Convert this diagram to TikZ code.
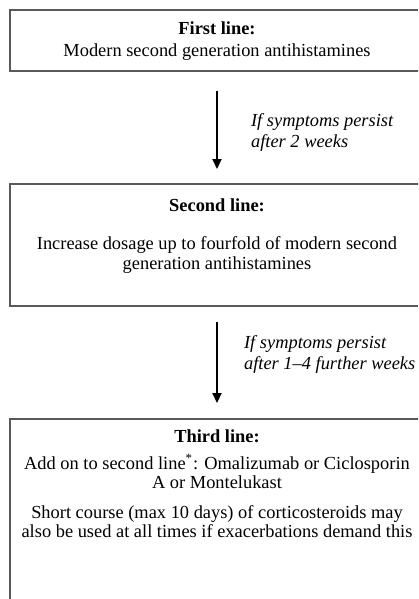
\documentclass[tikz,border=0pt]{standalone}
\usepackage{fontspec}
\setmainfont{Liberation Serif}
\usetikzlibrary{arrows.meta,positioning}
\newcommand{\chartfont}{\fontsize{9.2}{10}\selectfont}
\tikzstyle{stage}=[rectangle, draw=black!65, line width=0.8pt, minimum width=207pt, inner sep=0pt, anchor=north]
\tikzstyle{heading}=[inner sep=0pt, font=\chartfont\bfseries]
\tikzstyle{body}=[inner sep=0pt, align=center, font=\chartfont]
\tikzstyle{cond}=[inner sep=0pt, align=left, font=\fontsize{9.2}{10.5}\selectfont\itshape]
\tikzstyle{down}=[line width=1.1pt, -{Triangle[length=5pt,width=4.5pt]}]

\begin{document}
\begin{tikzpicture}[x=0.5pt,y=-0.5pt]
	\useasboundingbox (0,0) rectangle (418,599);
	\clip (0,0) rectangle (418,599);
	% boxes
	\node[stage, minimum height=30.5pt] (first) at (217,9) {};
	\node[stage, minimum height=61pt] (second) at (217,183) {};
	\node[stage, minimum height=110pt] (third) at (217,418) {};
	% texts
	\node[heading] (firsthead) at (217,28) {First line:};
	\node[body] (firsttext) at (217,52) {Modern second generation antihistamines};
	\node[heading] (secondhead) at (217,205) {Second line:};
	\node[body] (secondtext) at (217,255) {Increase dosage up to fourfold of modern second\\generation antihistamines};
	\node[heading] (thirdhead) at (217,436) {Third line:};
	\node[body, font=\fontsize{9.2}{9.5}\selectfont] (thirdtext) at (217,471.5) {Add on to second line\textsuperscript{*}: Omalizumab or Ciclosporin\\A or Montelukast};
	\node[body, font=\fontsize{9.2}{9.5}\selectfont] (thirdnote) at (217,521.5) {Short course (max 10 days) of corticosteroids may\\also be used at all times if exacerbations demand this};
	% arrows
	\draw[down, shorten <=9.5pt, shorten >=7pt] (first) -- (second)
		node[cond, pos=0.55, right=16.5pt] (cond1) {If symptoms persist\\after 2 weeks};
	\draw[down, shorten <=7.5pt, shorten >=7.5pt] (second) -- (third)
		node[cond, pos=0.43, right=13pt] (cond2) {If symptoms persist\\after 1--4 further weeks};
\end{tikzpicture}
\end{document}
